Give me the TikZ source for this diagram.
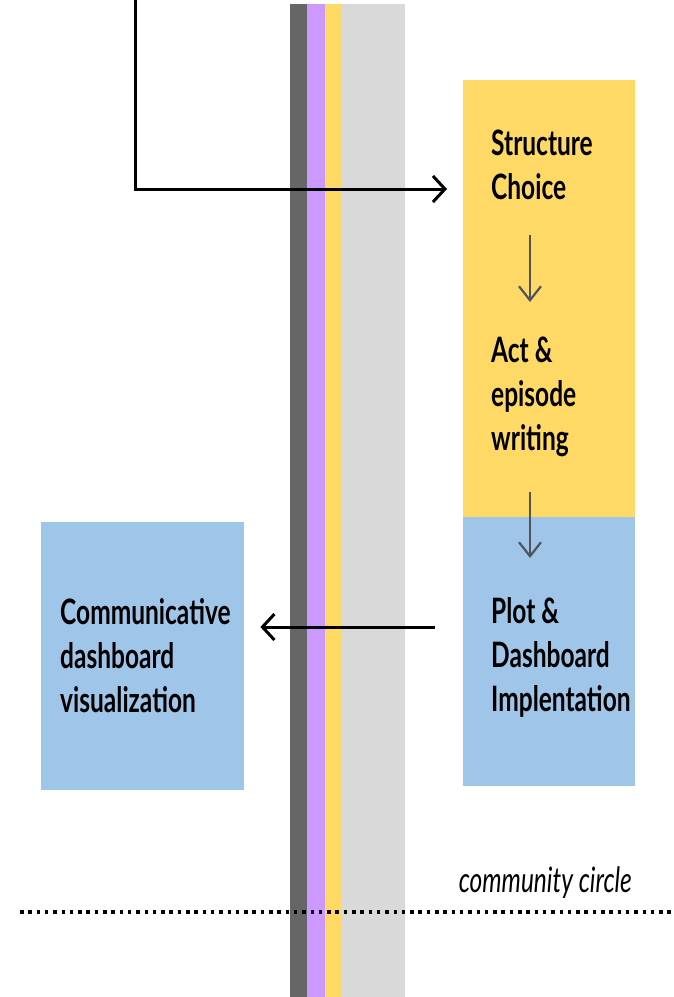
\documentclass[tikz,border=0pt]{standalone}
\usepackage{fontspec}
\newfontfamily\boxfont[FakeStretch=0.7]{Lato}
\usetikzlibrary{arrows.meta}

\definecolor{laneDark}{HTML}{666666}
\definecolor{laneViolet}{HTML}{CC99FF}
\definecolor{laneYellow}{HTML}{FFD966}
\definecolor{laneGray}{HTML}{D9D9D9}
\definecolor{boxBlue}{HTML}{9FC5E8}
\definecolor{stepGray}{HTML}{4F5559}

\begin{document}
\begin{tikzpicture}[x=1pt,y=-1pt,
  panel/.style={anchor=north west,inner sep=0,minimum width=#1},
  stage/.style={anchor=north west,inner sep=0,align=left,font=\boxfont\bfseries\fontsize{35}{44}\selectfont},
  flow/.style={-{Straight Barb[length=12pt,width=26pt]},line width=3pt,black},
  down/.style={-{Straight Barb[length=14pt,width=22pt]},line width=2.2pt,stepGray}]
\useasboundingbox (0,0) rectangle (674,997);
% lanes
\fill[laneDark] (290,4) rectangle (307,997);
\fill[laneViolet] (307,4) rectangle (325,997);
\fill[laneYellow] (325,4) rectangle (342,997);
\fill[laneGray] (342,4) rectangle (405,997);
% boxes
\node[panel=172pt,minimum height=437pt,fill=laneYellow] (plan) at (463,80) {};
\node[panel=172pt,minimum height=269pt,fill=boxBlue] (impl) at (463,517) {};
\node[panel=203pt,minimum height=268pt,fill=boxBlue] (dash) at (41,522) {};
% texts
\node[stage] (choice) at (491,130) {Structure\\Choice};
\node[stage] (act) at (491,337) {Act \&\\episode\\writing};
\node[stage] (plot) at (491,597) {Plot \&\\Dashboard\\Implentation};
\node[stage] (comm) at (60,598) {Communicative\\dashboard\\visualization};
\node[anchor=base east,inner sep=0,font=\boxfont\itshape\fontsize{35}{40}\selectfont] (circle) at (632,892) {community circle};
% connectors
\coordinate (src) at (135,0);
\coordinate (entry) at (447,189);
\coordinate (out) at (435,627);
\coordinate (midx) at (530,0);
\draw[flow] (src) |- (entry);
\draw[flow] (out) -- ([xshift=16pt]dash.east |- out);
\draw[down] ([yshift=-35pt]choice.south -| midx) -- ([yshift=35pt]act.north -| midx);
\draw[down] ([yshift=-35pt]act.south -| midx) -- ([yshift=39pt]plot.north -| midx);
% circle boundary
\draw[line width=3.5pt,dash pattern=on 3.5pt off 4.8pt] (20,912) -- (674,912);
\end{tikzpicture}
\end{document}
